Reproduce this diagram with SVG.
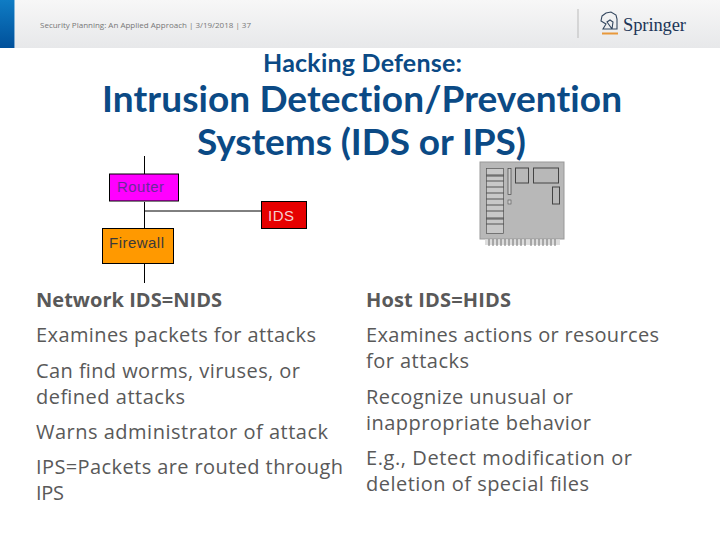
<svg xmlns="http://www.w3.org/2000/svg" width="720" height="540" viewBox="0 0 720 540">
<style>
text{font-family:"Open Sans","Noto Sans","DejaVu Sans",sans-serif}
.b{font-size:20px;fill:#595959}
.h{font-weight:700}
.t{font-family:Lato,"Open Sans",sans-serif;font-size:37px;fill:#0b4a85;font-weight:700;font-variant-ligatures:none}
.n{font-family:"Liberation Sans",Arial,sans-serif;font-size:15px}
.l{stroke:#000;stroke-width:1;fill:none}
.bx{stroke:#000;stroke-width:1}
</style>
<defs>
<linearGradient id="hd" x1="0" y1="0" x2="0" y2="1"><stop offset="0" stop-color="#f7f7f7"/><stop offset="1" stop-color="#e7e8ea"/></linearGradient>
<linearGradient id="bl" x1="0" y1="0" x2="0" y2="1"><stop offset="0" stop-color="#0f7cc4"/><stop offset="1" stop-color="#00509a"/></linearGradient>
</defs>
<rect width="720" height="540" fill="#fff"/>
<rect x="15" width="705" height="48" fill="url(#hd)"/>
<rect width="14.500" height="48" fill="url(#bl)"/>
<text x="40" y="28" font-size="8" fill="#777" textLength="211">Security Planning: An Applied Approach | 3/19/2018 | 37</text>
<line x1="578" y1="9" x2="578" y2="38" stroke="#bbb"/>
<g id="springer-logo">
<path d="M602 16L606 13L611 12L616 15L617 19V29H612L613 22L610 20L607 22L612 29H603L606 24L601 21Z" fill="none" stroke="#33475f" stroke-width="1.100"/>
<rect x="602" y="32.500" width="16" height="2" fill="#e8983a"/>
<text x="623" y="31" font-size="18.500" fill="#1c3557" style="font-family:'Liberation Serif',serif" textLength="63">Springer</text>
</g>
<text class="t" x="263" y="72" style="font-size:25px" textLength="199">Hacking Defense:</text>
<text class="t" x="102" y="112" textLength="520">Intrusion Detection/Prevention</text>
<text class="t" x="197" y="155" textLength="329">Systems (IDS or IPS)</text>
<g id="connectors">
<path class="l" d="M144.500 156V174M144.500 202V228M144.500 211H261M144.500 264V283"/>
</g>
<g id="router"><rect class="bx" x="109.500" y="174" width="69" height="27" fill="#f0f"/><text class="n" x="117" y="192" fill="#6a2a9a" textLength="47">Router</text></g>
<g id="ids"><rect class="bx" x="261.500" y="201.500" width="45" height="27" fill="#e60000"/><text class="n" x="268" y="221" fill="#f4d0d0" textLength="26">IDS</text></g>
<g id="firewall"><rect class="bx" x="102.500" y="228.500" width="71" height="35" fill="#ff9900"/><text class="n" x="109" y="248" fill="#3a3a3a" textLength="55">Firewall</text></g>
<g id="host-server">
<rect x="480" y="162" width="84" height="77" fill="#b8b8b8" stroke="#999"/>
<rect x="486.500" y="168.500" width="17" height="65" fill="#c8c8c8" stroke="#555" stroke-width=".7"/>
<path d="M486 175H504M486 176H504M486 181H504M486 187H504M486 193H504M486 199H504M486 205H504M486 211H504M486 218H504M486 219H504M486 224H504" stroke="#555" stroke-width="1"/>
<rect x="508" y="168.500" width="3" height="26" fill="#ccc" stroke="#444" stroke-width=".7"/>
<rect x="508" y="200" width="3" height="4" fill="#ccc" stroke="#555" stroke-width=".6"/>
<rect x="515.500" y="168" width="13" height="15" fill="#b8b8b8" stroke="#444"/>
<rect x="533.500" y="168" width="25" height="15" fill="#b8b8b8" stroke="#444"/>
<rect x="552.500" y="187" width="7" height="17" fill="#b8b8b8" stroke="#444"/>
<path d="M485 239.500H560V245H485Z" fill="#ddd"/>
<path d="M489 239V246M493 239V246M497 239V246M501 239V246M505 239V246M509 239V246M513 239V246M517 239V246M521 239V246M525 239V246M531 239V246M535 239V246M539 239V246M543 239V246M547 239V246M551 239V246M555 239V246" stroke="#555" stroke-width=".8"/>
</g>
<text class="b h" x="36" y="307" textLength="186">Network IDS=NIDS</text>
<text class="b" x="36" y="342" textLength="280">Examines packets for attacks</text>
<text class="b" x="36" y="378" textLength="264">Can find worms, viruses, or</text>
<text class="b" x="36" y="404" textLength="149">defined attacks</text>
<text class="b" x="36" y="439" textLength="292">Warns administrator of attack</text>
<text class="b" x="36" y="474" textLength="307">IPS=Packets are routed through</text>
<text class="b" x="36" y="500" textLength="28">IPS</text>
<text class="b h" x="366" y="307" textLength="145">Host IDS=HIDS</text>
<text class="b" x="366" y="342" textLength="293">Examines actions or resources</text>
<text class="b" x="366" y="368" textLength="103">for attacks</text>
<text class="b" x="366" y="404" textLength="207">Recognize unusual or</text>
<text class="b" x="366" y="430" textLength="225">inappropriate behavior</text>
<text class="b" x="366" y="465" textLength="266">E.g., Detect modification or</text>
<text class="b" x="366" y="491" textLength="223">deletion of special files</text>
</svg>
